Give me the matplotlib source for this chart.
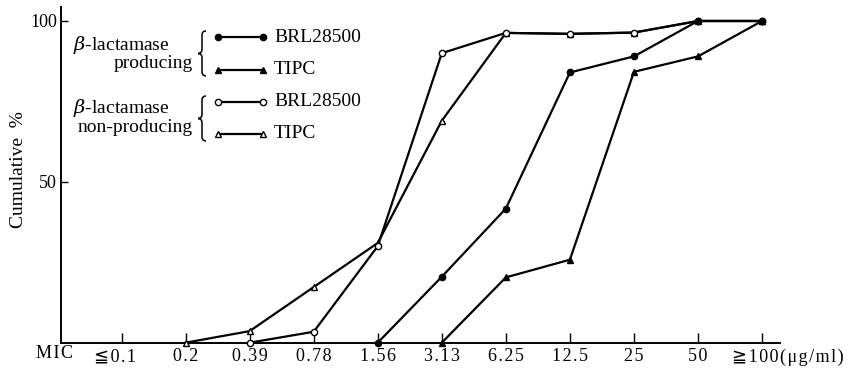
import matplotlib
matplotlib.use("Agg")
import matplotlib.pyplot as plt
import matplotlib.transforms as mtransforms
from matplotlib.lines import Line2D
from matplotlib.path import Path
from matplotlib.patches import PathPatch

plt.rcParams['font.family'] = ['Liberation Serif', 'DejaVu Serif', 'DejaVu Sans']
plt.rcParams['mathtext.fontset'] = 'dejavuserif'

categories = ["≦0.1", "0.2", "0.39", "0.78", "1.56", "3.13", "6.25", "12.5", "25", "50", "≧100(μg/ml)"]

# beta-lactamase producing
prod_brl_idx = [4, 5, 6, 7, 8, 9, 10]
prod_brl = [0, 20.5, 41.7, 84, 89, 100, 100]
prod_tipc_idx = [5, 6, 7, 8, 9, 10]
prod_tipc = [0, 20.3, 25.8, 84.2, 89, 100]

# beta-lactamase non-producing
non_brl_idx = [2, 3, 4, 5, 6, 7, 8, 9, 10]
non_brl = [0, 3.4, 30, 90, 96.3, 96, 96.4, 100, 100]
non_tipc_idx = [1, 2, 3, 4, 5, 6, 7, 8, 9, 10]
non_tipc = [0, 3.6, 17.3, 31, 69, 96.3, 96, 96.4, 100, 100]

HS = "\u200a"  # hair space for the wide typewriter-like spacing


def spaced(s, sep=HS):
    return sep.join(list(s))


W, H = 848, 368
fig = plt.figure(figsize=(W / 100, H / 100), dpi=100)
ax = fig.add_axes([61 / W, 1 - 342.7 / H, (780 - 61) / W, (342.7 - 7) / H])

lw = 1.6
style = dict(color='black', linewidth=lw, clip_on=False, zorder=3)
ax.plot(non_tipc_idx, non_tipc, marker='^', markersize=5, markerfacecolor='white',
        markeredgecolor='black', markeredgewidth=1.0, **style)
ax.plot(non_brl_idx, non_brl, marker='o', markersize=4.5, markerfacecolor='white',
        markeredgecolor='black', markeredgewidth=1.0, **style)
ax.plot(prod_tipc_idx, prod_tipc, marker='^', markersize=5, markerfacecolor='black',
        markeredgecolor='black', **style)
ax.plot(prod_brl_idx, prod_brl, marker='o', markersize=4.5, markerfacecolor='black',
        markeredgecolor='black', **style)

ax.set_xlim(-0.945, 10.28)
ax.set_ylim(0, 104.35)
for s in ['top', 'right']:
    ax.spines[s].set_visible(False)
for s in ['left', 'bottom']:
    ax.spines[s].set_linewidth(1.4)

ax.set_xticks(range(len(categories)))
ax.set_xticklabels([spaced(c) for c in categories], fontsize=13)
labels = ax.get_xticklabels()
labels[-1].set_horizontalalignment('left')
ax.tick_params(axis='x', direction='in', length=7, width=1.0, pad=4)
offset = mtransforms.ScaledTranslation(-30 / 100, 0, fig.dpi_scale_trans)
labels[-1].set_transform(labels[-1].get_transform() + offset)
offset0 = mtransforms.ScaledTranslation(-7 / 100, 0, fig.dpi_scale_trans)
labels[0].set_transform(labels[0].get_transform() + offset0)

ax.set_yticks([50, 100])
ax.set_yticklabels(["50", "100"], fontsize=13)
ax.tick_params(axis='y', direction='in', length=5, width=1.0, pad=3)


def fx(x):
    return x / W


def fy(y):
    return 1 - y / H


fig.text(fx(36), fy(353), spaced("MIC"), fontsize=13, ha='left', va='center')
fig.text(fx(19), fy(170), "Cumulative\u2002%", fontsize=14,
         rotation=90, ha='center', va='center')

# legend block
fs = 14
fig.text(fx(73), fy(45), r"$\beta$-lactamase", fontsize=fs, ha='left', va='center')
fig.text(fx(193), fy(63), "producing", fontsize=fs, ha='right', va='center')
fig.text(fx(73), fy(108), r"$\beta$-lactamase", fontsize=fs, ha='left', va='center')
fig.text(fx(193), fy(128), "non-producing", fontsize=fs, ha='right', va='center')


def draw_brace(x, y0, y1, w=8):
    ym = (y0 + y1) / 2
    xm = x + w / 2
    r = 4
    pts = [
        (x + w, y0), (xm, y0), (xm, y0 + r),
        (xm, ym - r),
        (xm, ym), (x, ym), (x, ym),
        (x, ym), (xm, ym), (xm, ym + r),
        (xm, y1 - r),
        (xm, y1), (x + w, y1), (x + w, y1),
    ]
    codes = [Path.MOVETO, Path.CURVE3, Path.CURVE3,
             Path.LINETO,
             Path.CURVE4, Path.CURVE4, Path.CURVE4,
             Path.CURVE4, Path.CURVE4, Path.CURVE4,
             Path.LINETO,
             Path.CURVE4, Path.CURVE4, Path.CURVE4]
    pts = [(fx(px), fy(py)) for px, py in pts]
    patch = PathPatch(Path(pts, codes), transform=fig.transFigure,
                      facecolor='none', edgecolor='black', linewidth=1.1)
    fig.add_artist(patch)


draw_brace(198, 31, 76)
draw_brace(198, 96, 141)

legend_rows = [
    (37, 'o', 'black', 4.5, "BRL28500"),
    (70, '^', 'black', 5, "TIPC"),
    (101.5, 'o', 'white', 4.5, "BRL28500"),
    (134, '^', 'white', 5, "TIPC"),
]
for yy, mk, fc, ms, lab in legend_rows:
    fig.add_artist(Line2D([fx(218), fx(263)], [fy(yy), fy(yy)], color='black',
                          linewidth=lw, marker=mk, markersize=ms,
                          markerfacecolor=fc, markeredgecolor='black',
                          markeredgewidth=1.0))
    fig.text(fx(274), fy(yy), lab, fontsize=fs, ha='left', va='center')

fig.savefig("out.png", dpi=100)
